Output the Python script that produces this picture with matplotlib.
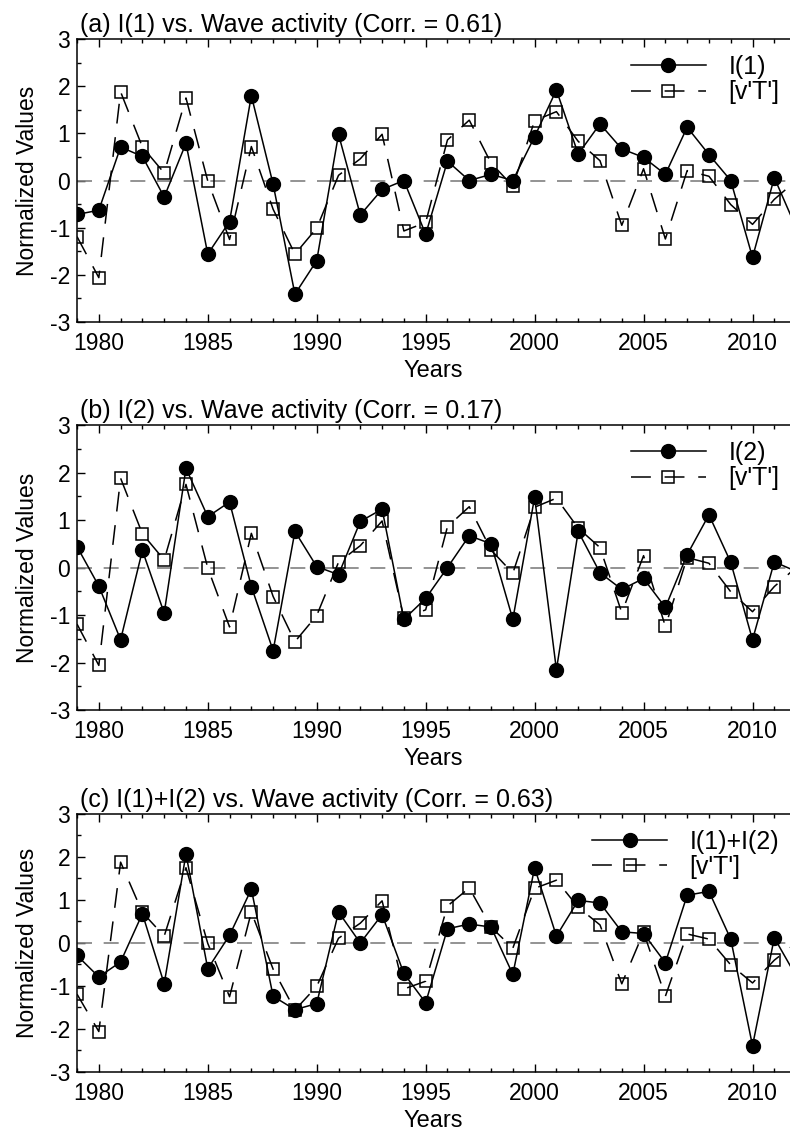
import matplotlib.pyplot as plt
from matplotlib.ticker import MultipleLocator

plt.rcParams['font.family'] = ['Liberation Sans', 'DejaVu Sans']
plt.rcParams['axes.unicode_minus'] = False

# anos (o último ponto, 2012, fica cortado na margem direita)
anos = list(range(1979, 2013))

# índice I(1)
i1 = [-0.72, -0.63, 0.71, 0.51, -0.35, 0.79, -1.56, -0.87, 1.80, -0.08,
      -2.41, -1.70, 0.98, -0.73, -0.19, 0.00, -1.14, 0.41, 0.00, 0.13,
      0.00, 0.93, 1.92, 0.56, 1.20, 0.67, 0.49, 0.13, 1.13, 0.55,
      0.00, -1.63, 0.06, -1.00]

# índice I(2)
i2 = [0.44, -0.39, -1.52, 0.36, -0.96, 2.09, 1.07, 1.38, -0.40, -1.75,
      0.76, 0.02, -0.15, 0.97, 1.23, -1.09, -0.65, 0.00, 0.67, 0.50,
      -1.09, 1.48, -2.15, 0.76, -0.11, -0.46, -0.23, -0.84, 0.27, 1.11,
      0.11, -1.52, 0.12, -0.08]

# I(1)+I(2)
i12 = [-0.29, -0.79, -0.44, 0.68, -0.95, 2.07, -0.60, 0.18, 1.25, -1.24,
       -1.55, -1.41, 0.72, 0.00, 0.66, -0.71, -1.39, 0.33, 0.44, 0.37,
       -0.73, 1.75, 0.16, 0.99, 0.93, 0.26, 0.22, -0.46, 1.11, 1.20,
       0.09, -2.39, 0.12, -0.77]

# atividade de ondas [v'T']
vt = [-1.19, -2.06, 1.88, 0.71, 0.16, 1.75, -0.01, -1.25, 0.72, -0.61,
      -1.56, -1.01, 0.11, 0.46, 0.98, -1.07, -0.89, 0.86, 1.28, 0.37,
      -0.12, 1.27, 1.46, 0.83, 0.42, -0.95, 0.25, -1.24, 0.21, 0.09,
      -0.51, -0.93, -0.40, 0.00]

paineis = [
    ("(a) I(1) vs. Wave activity (Corr. = 0.61)", "I(1)", i1),
    ("(b) I(2) vs. Wave activity (Corr. = 0.17)", "I(2)", i2),
    ("(c) I(1)+I(2) vs. Wave activity (Corr. = 0.63)", "I(1)+I(2)", i12),
]

# posições dos eixos [esq, baixo, largura, altura] em fração da figura
posicoes = [
    [0.0975, 0.7153, 0.9025, 0.2502],
    [0.0975, 0.3722, 0.9025, 0.2520],
    [0.0975, 0.0522, 0.9025, 0.2281],
]

fig = plt.figure(figsize=(7.9, 11.31), dpi=100)

for (titulo, nome, serie), pos in zip(paineis, posicoes):
    ax = fig.add_axes(pos)
    ax.axhline(0, color='gray', lw=1.2, dashes=(9, 7))
    # marcadores só até 2011, o de 2012 está fora da imagem
    ax.plot(anos, vt, color='black', lw=1.1, dashes=(13, 9),
            marker='s', markersize=9, markerfacecolor='none',
            markeredgecolor='black', markeredgewidth=1.1,
            markevery=slice(0, len(anos) - 1), label="[v'T']")
    ax.plot(anos, serie, color='black', lw=1.1, marker='o', markersize=10,
            markerfacecolor='black', markeredgecolor='black',
            markevery=slice(0, len(anos) - 1), label=nome)

    ax.set_xlim(1979, 2011.72)
    ax.set_ylim(-3, 3)
    ax.xaxis.set_major_locator(MultipleLocator(5))
    ax.xaxis.set_minor_locator(MultipleLocator(1))
    ax.yaxis.set_major_locator(MultipleLocator(1))
    ax.yaxis.set_minor_locator(MultipleLocator(0.5))
    ax.tick_params(which='both', direction='in', top=True, right=False,
                   labelsize=16.5, width=1)
    ax.tick_params(which='major', length=6)
    ax.tick_params(which='minor', length=3)
    ax.tick_params(axis='x', pad=7)
    ax.tick_params(axis='y', pad=5)
    ax.spines['right'].set_visible(False)
    for s in ['left', 'top', 'bottom']:
        ax.spines[s].set_linewidth(1.1)

    ax.set_title(titulo, loc='left', fontsize=18, pad=5, x=0.004)
    ax.set_xlabel('Years', fontsize=17, labelpad=4)
    ax.set_ylabel('Normalized Values', fontsize=16.5, labelpad=8)

    # legenda a ~16 px abaixo do topo do eixo
    altura_px = pos[3] * 1131
    handles, labels = ax.get_legend_handles_labels()
    ax.legend(handles[::-1], labels[::-1], loc='upper right',
              bbox_to_anchor=(0.985, 1 - 16 / altura_px), frameon=False,
              fontsize=18, handlelength=3.0, handletextpad=0.9,
              labelspacing=0.05, borderpad=0, borderaxespad=0)

fig.savefig('out.png', dpi=100)
